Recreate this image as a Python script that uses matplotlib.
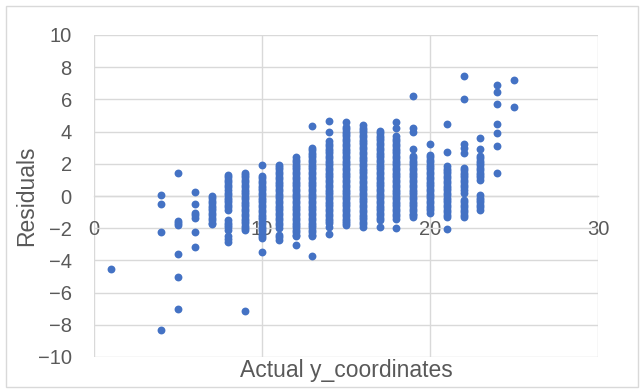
import matplotlib.pyplot as plt
from matplotlib.patches import Rectangle

# residuals, one list per actual y value
residuals = {
    1: [-4.55],
    4: [0.05, -0.5, -2.25, -8.3],
    5: [1.45, -1.55, -1.7, -1.8, -3.6, -5.0, -7.0],
    6: [0.27, -0.5, -1.05, -1.2, -1.35, -2.25, -3.15],
    7: [0.0, -0.15, -0.3, -0.45, -0.6, -0.75, -0.9, -1.05, -1.2, -1.35, -1.5, -1.65, -1.75],
    8: [1.3, 1.15, 1.0, 0.85, 0.7, 0.55, 0.35, 0.2, 0.05, -0.1, -0.25, -0.4, -0.55, -0.7,
        -0.85, -1.5, -1.65, -1.8, -1.95, -2.1, -2.5, -2.65, -2.85],
    9: [1.45, 1.3, 1.15, 1.0, 0.85, 0.7, 0.55, 0.4, 0.25, 0.1, -0.05, -0.2, -0.35, -0.5,
        -0.65, -0.8, -0.95, -1.1, -1.25, -1.4, -1.55, -1.7, -1.85, -2.0, -2.1, -7.15],
    10: [1.9, 1.25, 1.1, 0.95, 0.8, 0.65, 0.5, 0.35, 0.2, 0.05, -0.1, -0.25, -0.4, -0.55,
         -0.7, -0.85, -1.0, -1.15, -1.3, -1.45, -1.6, -1.75, -1.9, -2.05, -2.2, -2.35, -2.5,
         -2.6, -3.5],
    11: [1.95, 1.8, 1.65, 1.5, 1.35, 1.2, 1.05, 0.9, 0.75, 0.6, 0.45, 0.3, 0.15, 0.0, -0.15,
         -0.3, -0.45, -0.6, -0.75, -0.9, -1.05, -1.2, -1.35, -1.5, -1.65, -1.8, -2.0, -2.4,
         -2.55, -2.75],
    12: [2.4, 2.25, 2.1, 1.95, 1.8, 1.65, 1.5, 1.35, 1.2, 1.05, 0.9, 0.75, 0.6, 0.45, 0.3,
         0.15, 0.0, -0.15, -0.3, -0.45, -0.6, -0.75, -0.9, -1.05, -1.2, -1.35, -1.5, -1.65,
         -1.8, -1.95, -2.1, -2.25, -2.4, -2.5, -3.05],
    13: [4.35, 3.0, 2.85, 2.7, 2.55, 2.4, 2.25, 2.1, 1.95, 1.8, 1.65, 1.5, 1.35, 1.2, 1.05,
         0.9, 0.75, 0.6, 0.45, 0.3, 0.15, 0.0, -0.15, -0.3, -0.45, -0.6, -0.75, -0.9, -1.05,
         -1.2, -1.35, -1.5, -1.65, -1.8, -1.95, -2.1, -2.25, -2.4, -2.5, -3.7],
    14: [4.65, 4.0, 3.4, 3.25, 3.1, 2.95, 2.8, 2.65, 2.5, 2.35, 2.2, 2.05, 1.9, 1.75, 1.6,
         1.45, 1.3, 1.15, 1.0, 0.85, 0.7, 0.55, 0.4, 0.25, 0.1, -0.05, -0.2, -0.35, -0.5,
         -0.65, -0.8, -0.95, -1.1, -1.25, -1.4, -1.55, -1.7, -1.9, -2.35],
    15: [4.6, 4.3, 4.15, 4.0, 3.85, 3.7, 3.55, 3.4, 3.25, 3.1, 2.95, 2.8, 2.65, 2.5, 2.35,
         2.2, 2.05, 1.9, 1.75, 1.6, 1.45, 1.3, 1.15, 1.0, 0.85, 0.7, 0.55, 0.4, 0.25, 0.1,
         -0.05, -0.2, -0.35, -0.5, -0.65, -0.8, -0.95, -1.1, -1.25, -1.4, -1.55, -1.7, -1.8],
    16: [4.4, 4.25, 4.1, 3.95, 3.8, 3.65, 3.5, 3.35, 3.2, 3.05, 2.9, 2.75, 2.6, 2.45, 2.3,
         2.15, 2.0, 1.85, 1.7, 1.55, 1.4, 1.25, 1.1, 0.95, 0.8, 0.65, 0.5, 0.35, 0.2, 0.05,
         -0.1, -0.25, -0.4, -0.55, -0.7, -0.85, -1.0, -1.15, -1.3, -1.45, -1.6, -1.75, -1.95],
    17: [4.05, 3.9, 3.75, 3.6, 3.45, 3.3, 3.15, 3.0, 2.85, 2.7, 2.55, 2.4, 2.25, 2.1, 1.95,
         1.8, 1.65, 1.5, 1.35, 1.2, 1.05, 0.9, 0.75, 0.6, 0.45, 0.3, 0.15, 0.0, -0.15, -0.3,
         -0.45, -0.6, -0.75, -0.9, -1.05, -1.2, -1.35, -1.5, -1.95],
    18: [4.6, 4.2, 3.7, 3.55, 3.4, 3.25, 3.1, 2.95, 2.8, 2.65, 2.5, 2.35, 2.2, 2.05, 1.9,
         1.75, 1.6, 1.45, 1.3, 1.15, 1.0, 0.85, 0.7, 0.55, 0.4, 0.25, 0.1, -0.05, -0.2,
         -0.35, -0.5, -0.65, -0.8, -0.95, -1.1, -1.25, -1.4, -2.0],
    19: [6.2, 4.2, 4.0, 2.9, 2.5, 2.35, 2.2, 2.05, 1.9, 1.75, 1.6, 1.45, 1.3, 1.15, 1.0,
         0.85, 0.7, 0.55, 0.4, 0.25, 0.1, -0.05, -0.2, -0.35, -0.5, -0.65, -0.8, -0.95,
         -1.1, -1.2, -1.3],
    20: [3.25, 2.55, 2.4, 2.25, 2.1, 1.95, 1.8, 1.65, 1.5, 1.35, 1.2, 1.05, 0.9, 0.75, 0.6,
         0.45, 0.3, 0.15, 0.0, -0.15, -0.3, -0.45, -0.6, -0.75, -0.9, -1.05],
    21: [4.5, 2.75, 1.85, 1.7, 1.55, 1.4, 1.25, 1.1, 0.95, 0.8, 0.65, 0.5, 0.35, 0.2, 0.05,
         -0.1, -0.25, -0.4, -0.55, -0.7, -0.85, -1.0, -1.15, -1.3, -2.05],
    22: [7.45, 6.0, 3.25, 3.0, 2.7, 1.75, 1.6, 1.45, 1.3, 1.15, 1.0, 0.85, 0.7, 0.55, 0.4,
         0.2, -0.25, -0.4, -0.55, -0.7, -0.85, -1.0, -1.15, -1.3],
    23: [3.6, 2.9, 2.5, 2.35, 2.2, 2.05, 1.9, 1.75, 1.6, 1.45, 1.3, 1.15, 1.0, 0.05, -0.1,
         -0.25, -0.4, -0.55, -0.7, -0.85],
    24: [6.9, 6.45, 5.7, 4.5, 3.9, 3.1, 1.45],
    25: [7.2, 5.55],
}

x_ticks = [0, 10, 20, 30]
y_ticks = [-10, -8, -6, -4, -2, 0, 2, 4, 6, 8, 10]

GRID = "#D9D9D9"
TEXT = "#595959"
BLUE = "#4472C4"

plt.rcParams['font.family'] = ['Liberation Sans', 'DejaVu Sans']

xs, ys = [], []
for actual, vals in residuals.items():
    xs += [actual] * len(vals)
    ys += vals

fig = plt.figure(figsize=(6.41, 3.89), dpi=100)
ax = fig.add_axes([94 / 641, 32 / 389, 504 / 641, 322 / 389])

ax.scatter(xs, ys, s=32, color=BLUE, linewidths=0, zorder=3)

ax.set_xlim(0, 30)
ax.set_ylim(-10, 10)
ax.set_xticks(x_ticks)
ax.set_yticks(y_ticks)
ax.grid(True, color=GRID, linewidth=1.0, zorder=0)
ax.set_axisbelow(True)

for side in ["top", "right", "left"]:
    ax.spines[side].set_visible(False)
ax.spines["bottom"].set_position(("data", 0))
ax.spines["bottom"].set_color(GRID)
ax.spines["bottom"].set_linewidth(1.0)

ax.tick_params(axis="x", length=0, pad=17, labelsize=14.5, labelcolor=TEXT)
ax.tick_params(axis="y", length=0, pad=16, labelsize=14.5, labelcolor=TEXT)

fig.text(346 / 641, (389 - 370) / 389, "Actual y_coordinates", ha="center", va="center",
         fontsize=16.5, color=TEXT)
fig.text(27 / 641, (389 - 196) / 389, "Residuals", ha="center", va="center",
         rotation=90, fontsize=16.5, color=TEXT)

# chart area border
fig.patches.append(Rectangle((6 / 641, 2 / 389), 632 / 641, 381 / 389,
                             transform=fig.transFigure, fill=False,
                             edgecolor=GRID, linewidth=1.0))

fig.savefig("out.png", dpi=100)
